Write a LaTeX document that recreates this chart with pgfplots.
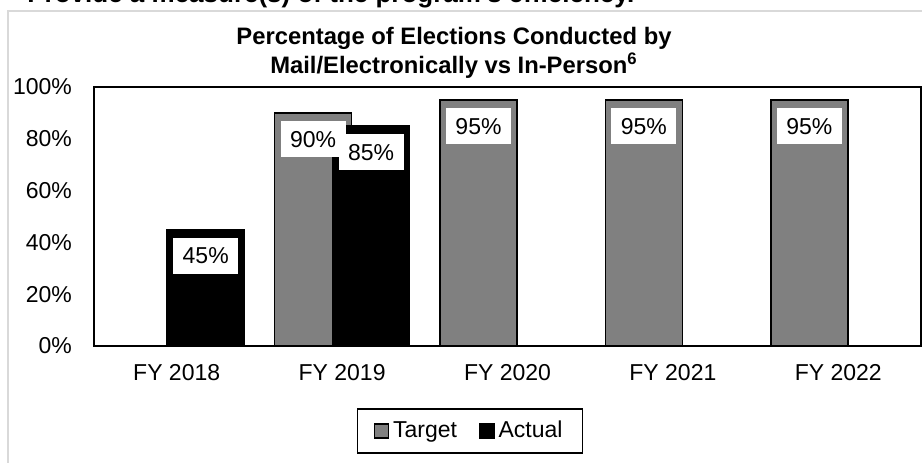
\documentclass[border=0pt]{standalone}
\usepackage{pgfplots}
\pgfplotsset{compat=1.18}
\usepackage{fontspec}
\setmainfont{Liberation Sans}
\definecolor{tgray}{RGB}{128,128,128}
\definecolor{frame}{RGB}{217,217,217}
\begin{document}
\begin{tikzpicture}[x=1pt,y=1pt]
\useasboundingbox (0,0) rectangle (461,231);
\fontsize{11.5}{13.8}\selectfont
% outer chart frame
\draw[frame, line width=0.9pt] (4,-6) -- (4,225.5) -- (467,225.5);
% cut heading above the chart
\node[anchor=base west, inner sep=0pt, font=\fontsize{13}{15}\selectfont\bfseries] at (13.5,229.5) {Provide a measure(s) of the program's efficiency.};
% chart title
\node[anchor=base, inner sep=0pt, text depth=0pt, font=\fontsize{11.9}{14}\selectfont\bfseries] at (227,208.5) {Percentage of Elections Conducted by};
\node[anchor=base, inner sep=0pt, text height=8.5pt, font=\fontsize{11.9}{14}\selectfont\bfseries] at (227,194.5) {Mail/Electronically vs In-Person\textsuperscript{6}};
\begin{axis}[
  at={(47pt,58pt)}, anchor=south west,
  width=413.5pt, height=129.5pt, scale only axis,
  xmin=-0.5, xmax=4.5, ymin=0, ymax=100,
  enlargelimits=false,
  ybar, bar width=38.5pt,
  xtick={0,1,2,3,4},
  xticklabels={FY 2018,FY 2019,FY 2020,FY 2021,FY 2022},
  ytick={0,20,40,60,80,100},
  yticklabel={\pgfmathprintnumber{\tick}\%},
  /pgf/number format/assume math mode=true,
  major tick length=0pt,
  tick label style={font=\fontsize{11.5}{13.8}\selectfont},
  yticklabel style={xshift=-7pt},
  xticklabel style={yshift=-5pt},
  axis line style={black, line width=1pt},
  clip=false,
  legend columns=2,
  legend style={at={(0.4547,-0.328)}, anchor=center, draw=black, line width=0.75pt,
    font=\fontsize{11.5}{13.8}\selectfont, inner xsep=8pt, inner ysep=4pt,
    /tikz/every even column/.append style={column sep=9pt}},
  legend image code/.code={\draw[#1, line width=0.75pt] (0pt,-3.5pt) rectangle (7pt,3.5pt);},
  nodes near coords style={anchor=north, yshift=-4pt, fill=white, inner sep=0pt,
    minimum width=32.5pt, minimum height=18pt, text=black,
    font=\fontsize{11.5}{13.8}\selectfont},
]
\addplot[fill=tgray, draw=black, line width=0.75pt, bar shift=-14.5pt]
  coordinates {(1,90) (2,95) (3,95) (4,95)};
\addlegendentry{Target}
\addplot[fill=black, draw=black, line width=0.75pt, bar shift=14.5pt]
  coordinates {(0,45) (1,85)};
\addlegendentry{Actual}
% data labels drawn above all bars
\addplot[draw=none, fill=none, bar shift=-14.5pt, forget plot, point meta=y,
  nodes near coords={\pgfmathprintnumber{\pgfplotspointmeta}\%}]
  coordinates {(1,90) (2,95) (3,95) (4,95)};
\addplot[draw=none, fill=none, bar shift=14.5pt, forget plot, point meta=y,
  nodes near coords={\pgfmathprintnumber{\pgfplotspointmeta}\%}]
  coordinates {(0,45) (1,85)};
\end{axis}
\end{tikzpicture}
\end{document}
